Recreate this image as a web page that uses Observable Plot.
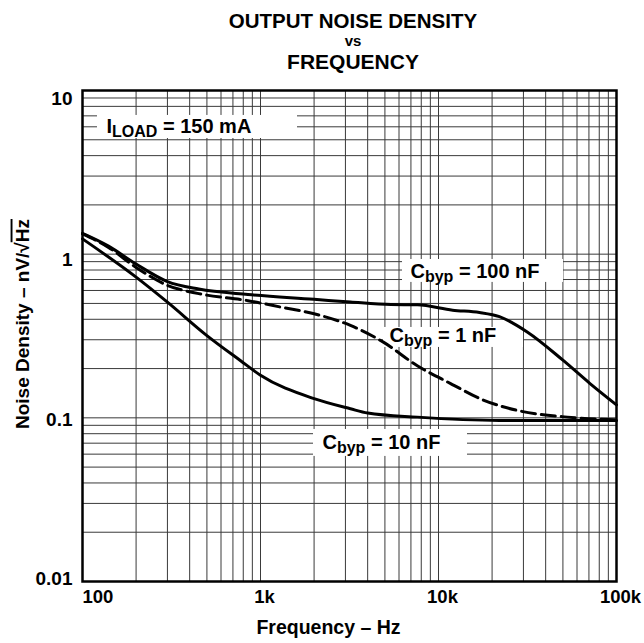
<!DOCTYPE html>
<html>
<head>
<meta charset="utf-8">
<script src="https://cdn.jsdelivr.net/npm/d3@7"></script>
<script src="https://cdn.jsdelivr.net/npm/@observablehq/plot@0.6"></script>
<style>
  body { margin: 0; background: #fff; font-family: "Liberation Sans", Arial, sans-serif; }
  #title { position: relative; width: 644px; height: 75px; }
  .t { position: absolute; left: 353px; transform: translateX(-50%); font-weight: bold; line-height: 1; white-space: nowrap; color: #000; }
</style>
</head>
<body>
<div id="title">
  <div class="t" style="top:10.6px;font-size:20.5px;">OUTPUT NOISE DENSITY</div>
  <div class="t" style="top:33.4px;font-size:15px;">vs</div>
  <div class="t" style="top:50.6px;font-size:21px;">FREQUENCY</div>
</div>
<div id="chart"></div>
<script>
// ---- data ----
const freq100nF = [100, 140, 200, 300, 450, 850, 2000, 3200, 5400, 7600, 12000, 17000, 22000, 31500, 50000, 71000, 100000];
const noise100nF = [1.34, 1.12, 0.87, 0.68, 0.612, 0.567, 0.53, 0.51, 0.492, 0.49, 0.455, 0.44, 0.415, 0.335, 0.225, 0.162, 0.12];

const freq1nF = [100, 140, 200, 300, 450, 850, 1300, 2000, 3200, 4900, 7600, 11700, 18000, 27700, 53000, 100000];
const noise1nF = [1.33, 1.10, 0.83, 0.645, 0.574, 0.52, 0.475, 0.432, 0.367, 0.29, 0.208, 0.162, 0.128, 0.111, 0.101, 0.0974];

const freq10nF = [100, 200, 300, 500, 770, 1000, 2000, 3200, 4000, 7600, 22000, 100000];
const noise10nF = [1.24, 0.724, 0.509, 0.318, 0.224, 0.182, 0.131, 0.1136, 0.107, 0.101, 0.0964, 0.0964];

const xTicks = [100, 1000, 10000, 100000];
const xTickLabels = ["100", "1k", "10k", "100k"];
const yTicks = [0.01, 0.1, 1, 10];
const yTickLabels = ["0.01", "0.1", "1", "10"];
const yTickShift = [-3, 2, 6, 8]; // label offsets as drawn in the reference

// annotation labels: text parts and anchor (frequency, noise) + background box extents
const annMain = ["I", "C", "C", "C"];
const annSub = ["LOAD", "byp", "byp", "byp"];
const annRest = [" = 150 mA", " = 100 nF", " = 1 nF", " = 10 nF"];
const annX = [136.4, 6961, 5305, 2230];
const annY = [6.06, 0.788, 0.316, 0.0702];
const boxX1 = [121.4, 6278, 4909, 1985];
const boxX2 = [1614, 50390, 30030, 14550];
const boxY1 = [7.04, 0.928, 0.3566, 0.0849];
const boxY2 = [5.09, 0.672, 0.2692, 0.0581];

const xLabel = "Frequency – Hz";
const yLabel = "Noise Density – nV/√Hz";

// ---- derived tables ----
const toRows = (f, v) => f.map((d, i) => ({f: d, v: v[i]}));
const s100 = toRows(freq100nF, noise100nF);
const s1 = toRows(freq1nF, noise1nF);
const s10 = toRows(freq10nF, noise10nF);
const anns = annMain.map((m, i) => ({main: m, sub: annSub[i], rest: annRest[i], x: annX[i], y: annY[i],
  x1: boxX1[i], x2: boxX2[i], y1: boxY1[i], y2: boxY2[i]}));

const mant = [1, 2, 3, 4, 5, 6, 7, 8, 9];
const xGrid = [100, 1000, 10000].flatMap(d => mant.map(m => d * m)).concat([100000]);
const yGrid = [0.01, 0.1, 1].flatMap(d => mant.map(m => +(d * m).toPrecision(3))).concat([10]);

const FONT = '"Liberation Sans", Arial, sans-serif';

const yTickMarks = yTicks.map((t, i) =>
  Plot.text([t], {y: d => d, text: () => yTickLabels[i], frameAnchor: "left", dx: -10, dy: yTickShift[i], textAnchor: "end", fontSize: 19})
);

const chart = Plot.plot({
  width: 644,
  height: 568,
  marginLeft: 82,
  marginRight: 28,
  marginTop: 15,
  marginBottom: 62,
  style: {fontFamily: FONT, fontWeight: "bold", fontSize: "19px", color: "#000", background: "#fff", overflow: "visible"},
  x: {type: "log", domain: [100, 100000], axis: null},
  y: {type: "log", domain: [0.01, 10], axis: null},
  marks: [
    Plot.ruleX(xGrid, {x: d => d, stroke: "#3a3a3a", strokeWidth: 1}),
    Plot.ruleY(yGrid, {y: d => d, stroke: "#3a3a3a", strokeWidth: 1}),
    Plot.rect(anns, {x1: "x1", x2: "x2", y1: "y1", y2: "y2", fill: "#fff", stroke: "none"}),
    Plot.line(s100, {x: "f", y: "v", stroke: "#000", strokeWidth: 3, curve: "monotone-x"}),
    Plot.line(s10, {x: "f", y: "v", stroke: "#000", strokeWidth: 3, curve: "monotone-x"}),
    Plot.line(s1, {x: "f", y: "v", stroke: "#000", strokeWidth: 3, strokeDasharray: "14,6", curve: "monotone-x"}),
    Plot.frame({stroke: "#000", strokeWidth: 2.5}),
    Plot.text(anns, {x: "x", y: "y", text: d => d.main + d.sub + d.rest, textAnchor: "start", fontSize: 20, fill: "#000"}),
    Plot.text(xTicks.slice(0, 1), {x: d => d, text: d => xTickLabels[xTicks.indexOf(d)], frameAnchor: "bottom", dy: 21, textAnchor: "start", fontSize: 18.5}),
    Plot.text(xTicks.slice(1), {x: d => d, text: d => xTickLabels[xTicks.indexOf(d)], frameAnchor: "bottom", dy: 21, dx: 4, textAnchor: "middle", fontSize: 18.5}),
    ...yTickMarks,
    Plot.text([xLabel], {text: d => d, frameAnchor: "bottom", dx: -21, dy: 52, textAnchor: "middle", fontSize: 19.5}),
    Plot.text([yLabel], {text: d => d, frameAnchor: "left", dx: -60, dy: -12, rotate: -90, textAnchor: "middle", fontSize: 19})
  ]
});

document.getElementById("chart").appendChild(chart);

// rich text: subscripts and the radical overline
const svg = d3.select(chart);
svg.selectAll("text").each(function() {
  const el = d3.select(this);
  const txt = this.textContent;
  const a = anns.find(d => d.main + d.sub + d.rest === txt);
  if (a) {
    el.text(null);
    el.append("tspan").text(a.main);
    el.append("tspan").attr("font-size", 16).attr("dy", 4).text(a.sub);
    el.append("tspan").attr("dy", -4).text(a.rest);
  } else if (txt === yLabel) {
    const i = txt.indexOf("√");
    el.text(null);
    el.append("tspan").text(txt.slice(0, i + 1));
    el.append("tspan").style("text-decoration", "overline").text(txt.slice(i + 1));
  }
});
</script>
</body>
</html>
